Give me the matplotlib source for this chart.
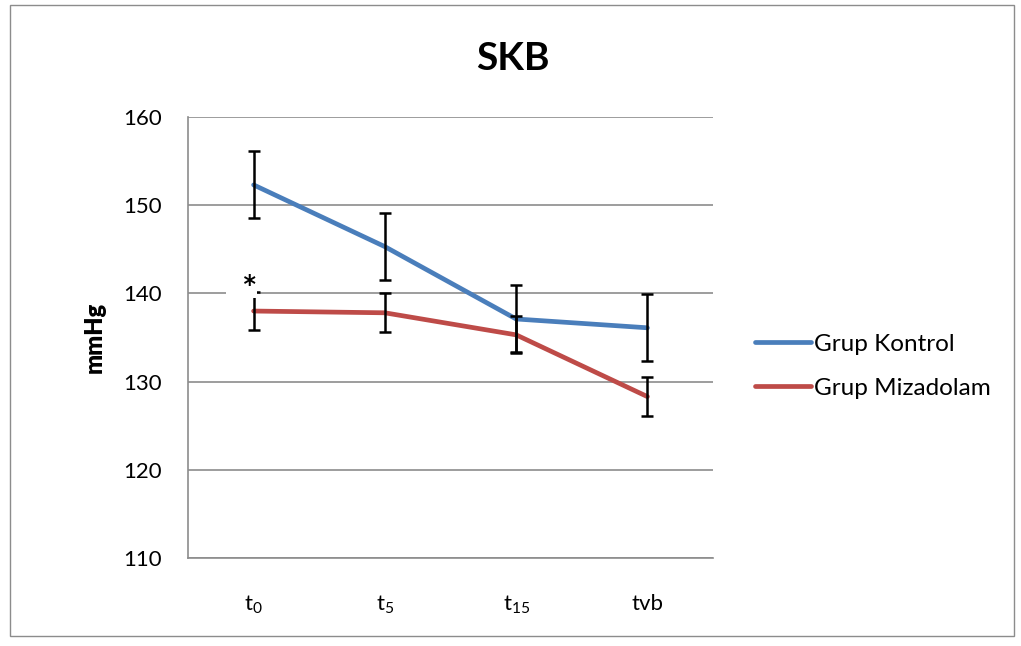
import matplotlib
matplotlib.use("Agg")
import matplotlib.pyplot as plt
from matplotlib.patches import Rectangle

# Systolic blood pressure (SKB) per time point, mean and SD in mmHg
categories = [r"$\mathregular{t_{0}}$", r"$\mathregular{t_{5}}$",
              r"$\mathregular{t_{15}}$", "tvb"]
kontrol_mean = [152.3, 145.3, 137.1, 136.1]
kontrol_sd = [3.8, 3.8, 3.8, 3.8]
mizadolam_mean = [138.0, 137.8, 135.3, 128.3]
mizadolam_sd = [2.2, 2.2, 2.1, 2.2]
series_names = ["Grup Kontrol", "Grup Mizadolam"]
yticks = [110, 120, 130, 140, 150, 160]

FONT = ["Lato", "DejaVu Sans"]
plt.rcParams["font.family"] = FONT
plt.rcParams["mathtext.fontset"] = "custom"
plt.rcParams["mathtext.rm"] = "Lato"
plt.rcParams["mathtext.it"] = "Lato:italic"
plt.rcParams["mathtext.bf"] = "Lato:bold"

fig = plt.figure(figsize=(10.21, 6.46), dpi=100)
fig.patches.append(Rectangle((10 / 1021, 1 - 636 / 646), 1004 / 1021, 631 / 646,
                             transform=fig.transFigure, fill=False,
                             edgecolor="#8c8c8c", linewidth=1.0))

ax = fig.add_axes([188 / 1021, 1 - 558 / 646, 525 / 1021, 441 / 646])
x = list(range(len(categories)))

blue = "#4A7EBB"
red = "#BE4B48"
ax.plot(x, kontrol_mean, color=blue, lw=3.4, solid_capstyle="round", zorder=3,
        label=series_names[0])
ax.plot(x, mizadolam_mean, color=red, lw=3.4, solid_capstyle="round", zorder=3,
        label=series_names[1])
for m, s in ((kontrol_mean, kontrol_sd), (mizadolam_mean, mizadolam_sd)):
    ax.errorbar(x, m, yerr=s, fmt="none", ecolor="black", elinewidth=1.8,
                capsize=4.5, capthick=1.8, zorder=4)

ax.set_xlim(-0.5, len(categories) - 0.5)
ax.set_ylim(110, 160)
ax.set_yticks(yticks)
ax.set_xticks(x)
ax.set_xticklabels(categories)
ax.yaxis.grid(True, color="#8c8c8c", lw=1.2)
ax.set_axisbelow(True)
for side in ("top", "right"):
    ax.spines[side].set_visible(False)
for side in ("left", "bottom"):
    ax.spines[side].set_color("#8c8c8c")
    ax.spines[side].set_linewidth(1.2)
ax.tick_params(axis="both", length=0, labelsize=16, colors="black")
ax.tick_params(axis="x", pad=26)
ax.tick_params(axis="y", pad=19)

# significance marker over the first point
ax.annotate("  *", xy=(x[0], mizadolam_mean[0] + mizadolam_sd[0]), xytext=(1.8, 5),
            textcoords="offset points", ha="right", va="center", fontsize=17,
            fontweight="bold", family="DejaVu Sans",
            bbox=dict(boxstyle="square,pad=0.05", fc="white", ec="none"), zorder=5)

ax.set_ylabel("mmHg", fontsize=17, fontweight="heavy", labelpad=12)
fig.text(513 / 1021, 1 - 59 / 646, "SKB", ha="center", va="center",
         fontsize=28, fontweight="bold")

ax.legend(loc="center left", bbox_to_anchor=(1.08, 0.435), frameon=False,
          fontsize=17.5, handlelength=2.3, handletextpad=0.13, labelspacing=0.95,
          borderpad=0, borderaxespad=0)

fig.savefig("out.png", dpi=100)
